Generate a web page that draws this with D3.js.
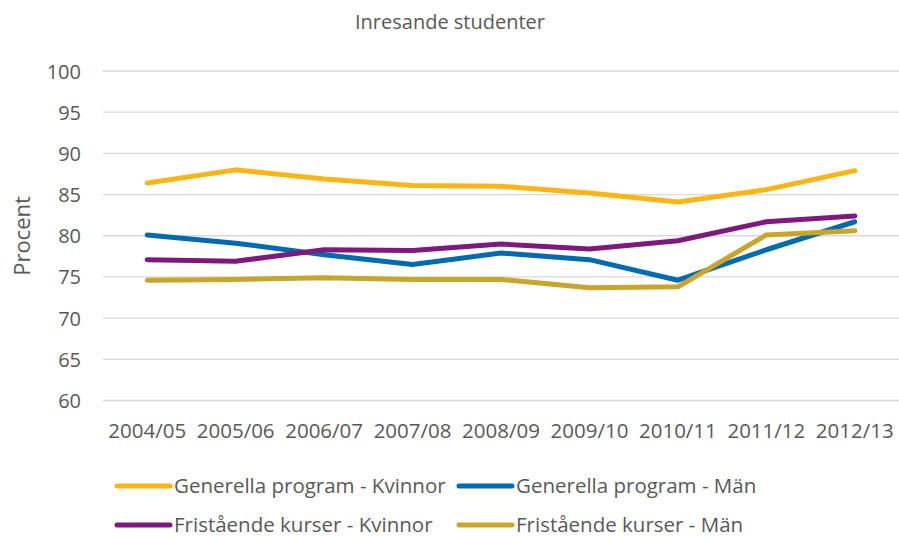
<!DOCTYPE html>
<html>
<head>
<meta charset="utf-8">
<script src="https://cdn.jsdelivr.net/npm/d3@7"></script>
<style>
  body { margin: 0; background: #fff; }
  svg text { font-family: "Open Sans", "Noto Sans", sans-serif; fill: #595959; }
</style>
</head>
<body>
<main></main>
<script>
// Inresande studenter - line chart

const years = ["2004/05","2005/06","2006/07","2007/08","2008/09","2009/10","2010/11","2011/12","2012/13"];
const yTicks = [60, 65, 70, 75, 80, 85, 90, 95, 100];

const genKvinnor = [86.4, 88.0, 86.9, 86.1, 86.0, 85.2, 84.1, 85.6, 87.9];
const genMan     = [80.1, 79.1, 77.7, 76.5, 77.9, 77.1, 74.6, 78.3, 81.7];
const friKvinnor = [77.1, 76.9, 78.3, 78.2, 79.0, 78.4, 79.4, 81.7, 82.4];
const friMan     = [74.6, 74.7, 74.9, 74.7, 74.7, 73.7, 73.8, 80.1, 80.6];

const seriesNames = ["Generella program - Kvinnor", "Generella program - Män",
                     "Fristående kurser - Kvinnor", "Fristående kurser - Män"];
const seriesColors = ["#FDB515", "#006AB3", "#80197F", "#C9A52A"];

const series = [genKvinnor, genMan, friKvinnor, friMan].map((vals, i) => ({
  name: seriesNames[i],
  color: seriesColors[i],
  values: vals
}));

const w = 899, h = 537;
const plotLeft = 103, plotRight = 899, plotTop = 71, plotBottom = 400.5;

const svg = d3.select("main").append("svg")
  .attr("width", w)
  .attr("height", h);

const xScale = d3.scaleBand()
  .domain(years)
  .range([plotLeft, plotRight]);

const yScale = d3.scaleLinear()
  .domain([60, 100])
  .range([plotBottom, plotTop]);

// gridlines
svg.append("g")
  .selectAll("line")
  .data(yTicks)
  .enter()
  .append("line")
  .attr("x1", plotLeft)
  .attr("x2", plotRight)
  .attr("y1", d => yScale(d))
  .attr("y2", d => yScale(d))
  .attr("stroke", "#d9d9d9")
  .attr("stroke-width", 1.3);

// y axis
const y_axis = d3.axisLeft(yScale).tickValues(yTicks).tickSize(0).tickPadding(0);
const gy = svg.append("g")
  .attr("transform", "translate(81,0)")
  .call(y_axis);
gy.select(".domain").remove();
gy.selectAll("text")
  .style("font-size", "20px")
  .attr("fill", "#595959")
  .attr("dy", "0.35em");

// x axis
const x_axis = d3.axisBottom(xScale).tickSize(0).tickPadding(0);
const gx = svg.append("g")
  .attr("transform", "translate(0,423)")
  .call(x_axis);
gx.select(".domain").remove();
gx.selectAll("text")
  .style("font-size", "20.5px")
  .attr("fill", "#595959");

// title
svg.append("text")
  .attr("x", 450)
  .attr("y", 29)
  .attr("text-anchor", "middle")
  .style("font-size", "20px")
  .text("Inresande studenter");

// y label
svg.append("text")
  .attr("transform", "translate(30," + 236 + ") rotate(-90)")
  .attr("text-anchor", "middle")
  .style("font-size", "22px")
  .text("Procent");

// lines
const line = d3.line()
  .x((d, i) => xScale(years[i]) + xScale.bandwidth() / 2)
  .y(d => yScale(d));

svg.append("g")
  .selectAll("path")
  .data(series)
  .enter()
  .append("path")
  .attr("d", d => line(d.values))
  .attr("fill", "none")
  .attr("stroke", d => d.color)
  .attr("stroke-width", 5)
  .attr("stroke-linecap", "round")
  .attr("stroke-linejoin", "round");

// legend
const legPos = [[115, 486], [457, 486], [115, 525], [457, 525]];
const leg = svg.append("g")
  .selectAll("g")
  .data(series)
  .enter()
  .append("g")
  .attr("transform", (d, i) => "translate(" + legPos[i][0] + "," + legPos[i][1] + ")");

leg.append("line")
  .attr("x1", 2)
  .attr("x2", 55)
  .attr("stroke", d => d.color)
  .attr("stroke-width", 5)
  .attr("stroke-linecap", "round");

leg.append("text")
  .attr("x", 59)
  .attr("dy", "0.35em")
  .style("font-size", "20.5px")
  .text(d => d.name);
</script>
</body>
</html>
